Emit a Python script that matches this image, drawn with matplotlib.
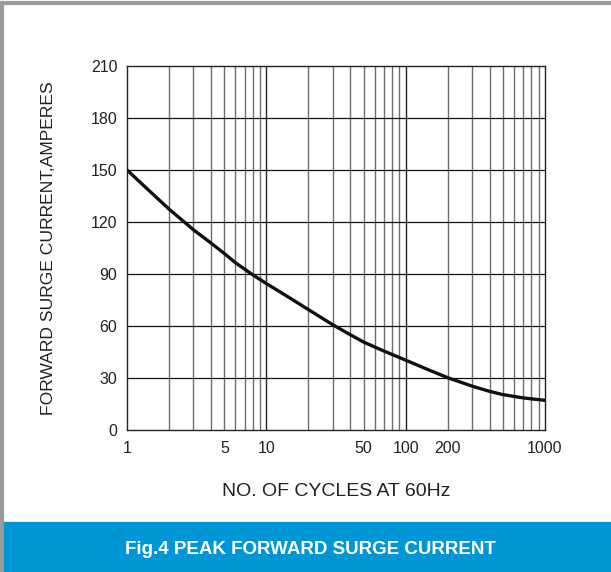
import numpy as np
import matplotlib.pyplot as plt
from matplotlib.patches import Rectangle
from matplotlib.lines import Line2D

# values
cycles = [1, 1.5, 2, 3, 4, 5, 6, 8, 10, 15, 20, 30, 40, 50, 70, 100,
          150, 200, 300, 400, 500, 700, 1000]
current = [150, 136.8, 127.5, 115.5, 107.9, 101.8, 96.5, 89.5, 84.5, 75.8, 69.5, 60.7, 55.0, 50.7,
           45.5, 40.3, 34.3, 30.2, 25.3, 22.3, 20.4, 18.5, 17.1]

xticks = [1, 5, 10, 50, 100, 200, 1000]
yticks = [0, 30, 60, 90, 120, 150, 180, 210]

plt.rcParams['font.family'] = ['Liberation Sans', 'DejaVu Sans']

fig = plt.figure(figsize=(6.11, 5.72), dpi=100)
ax = fig.add_axes([127/611, 1 - 430/572, 418/611, 364/572])

# grid: every integer inside each decade
minor = [m * 10**d for d in range(3) for m in range(2, 10)]
for v in minor:
    ax.axvline(v, color='#6e6e6e', lw=1.0, zorder=1)
for v in [10, 100]:
    ax.axvline(v, color='#222222', lw=1.0, zorder=1)
for v in yticks[1:-1]:
    ax.axhline(v, color='#111111', lw=0.9, zorder=1)

ax.plot(cycles, current, color='#111111', lw=2.4, solid_capstyle='round',
        solid_joinstyle='round', zorder=3)

ax.set_xscale('log')
ax.set_xlim(1, 1000)
ax.set_ylim(0, 210)
ax.set_xticks(xticks)
ax.set_xticklabels([str(t) for t in xticks])
ax.xaxis.set_minor_locator(plt.NullLocator())
ax.set_yticks(yticks)
ax.tick_params(length=0, labelsize=11.5, colors='#222222')
ax.tick_params(axis='x', pad=8)
ax.tick_params(axis='y', pad=7)
for s in ax.spines.values():
    s.set_color('#222222')
    s.set_linewidth(1.0)

ax.set_xlabel('NO. OF CYCLES AT 60Hz', fontsize=14, color='#222222', labelpad=19)
ax.set_ylabel('FORWARD SURGE CURRENT,AMPERES', fontsize=12.6, color='#222222', labelpad=25)

# frame and banner
fig.add_artist(Line2D([0.003, 0.003], [0, 0.994], transform=fig.transFigure, color='#9a9a9a', lw=3))
fig.add_artist(Line2D([0, 1], [0.994, 0.994], transform=fig.transFigure, color='#9a9a9a', lw=3))
fig.add_artist(Rectangle((0.006, 0), 0.994, 50/572, transform=fig.transFigure, color='#0096d6', zorder=5))
fig.text(310/611, 1 - 549/572, 'Fig.4 PEAK FORWARD SURGE CURRENT', color='white', fontsize=13.5,
         fontweight='bold', ha='center', va='center', zorder=6)

fig.savefig('out.png', dpi=100)
